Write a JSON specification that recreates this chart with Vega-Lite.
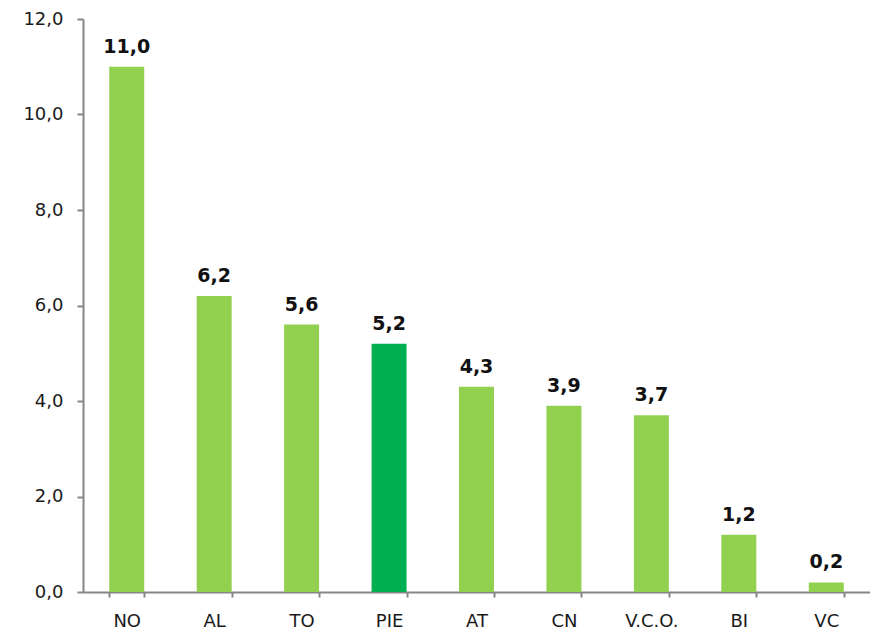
{
  "$schema": "https://vega.github.io/schema/vega-lite/v6.json",
  "width": 787,
  "height": 573,
  "autosize": {"type": "none"},
  "padding": {"left": 83, "top": 19, "right": 0, "bottom": 42},
  "background": "white",
  "config": {
    "view": {"stroke": null},
    "locale": {"number": {"decimal": ",", "thousands": ".", "grouping": [3], "currency": ["", " €"]}},
    "font": "DejaVu Sans"
  },
  "data": {
    "values": [
      {"area": "NO", "value": 11.0, "group": "prov"},
      {"area": "AL", "value": 6.2, "group": "prov"},
      {"area": "TO", "value": 5.6, "group": "prov"},
      {"area": "PIE", "value": 5.2, "group": "reg"},
      {"area": "AT", "value": 4.3, "group": "prov"},
      {"area": "CN", "value": 3.9, "group": "prov"},
      {"area": "V.C.O.", "value": 3.7, "group": "prov"},
      {"area": "BI", "value": 1.2, "group": "prov"},
      {"area": "VC", "value": 0.2, "group": "prov"}
    ]
  },
  "encoding": {
    "x": {
      "field": "area", "type": "nominal", "sort": null,
      "scale": {"paddingInner": 0.6, "paddingOuter": 0.3},
      "axis": {
        "title": null, "labelAngle": 0, "tickBand": "extent",
        "domainColor": "#868686", "tickColor": "#868686", "tickSize": 5,
        "labelFontSize": 18, "labelColor": "#1a1a1a", "labelPadding": 15,
        "labelFont": "DejaVu Sans", "domainWidth": 2, "tickWidth": 2
      }
    },
    "y": {
      "field": "value", "type": "quantitative",
      "scale": {"domain": [0, 12], "nice": false},
      "axis": {
        "title": null, "values": [0, 2, 4, 6, 8, 10, 12], "format": ".1f",
        "grid": false, "domainColor": "#868686", "tickColor": "#868686", "tickSize": 6,
        "labelFontSize": 18, "labelColor": "#1a1a1a", "labelPadding": 14,
        "labelFont": "DejaVu Sans", "domainWidth": 2, "tickWidth": 2
      }
    }
  },
  "layer": [
    {
      "mark": {"type": "bar"},
      "encoding": {
        "color": {
          "field": "group", "type": "nominal",
          "scale": {"domain": ["prov", "reg"], "range": ["#92D050", "#00B050"]},
          "legend": null
        }
      }
    },
    {
      "mark": {"type": "text", "baseline": "bottom", "dy": -10, "fontSize": 19, "fontWeight": "bold", "color": "#111111", "font": "DejaVu Sans"},
      "encoding": {
        "text": {"field": "value", "type": "quantitative", "format": ".1f"}
      }
    }
  ]
}
